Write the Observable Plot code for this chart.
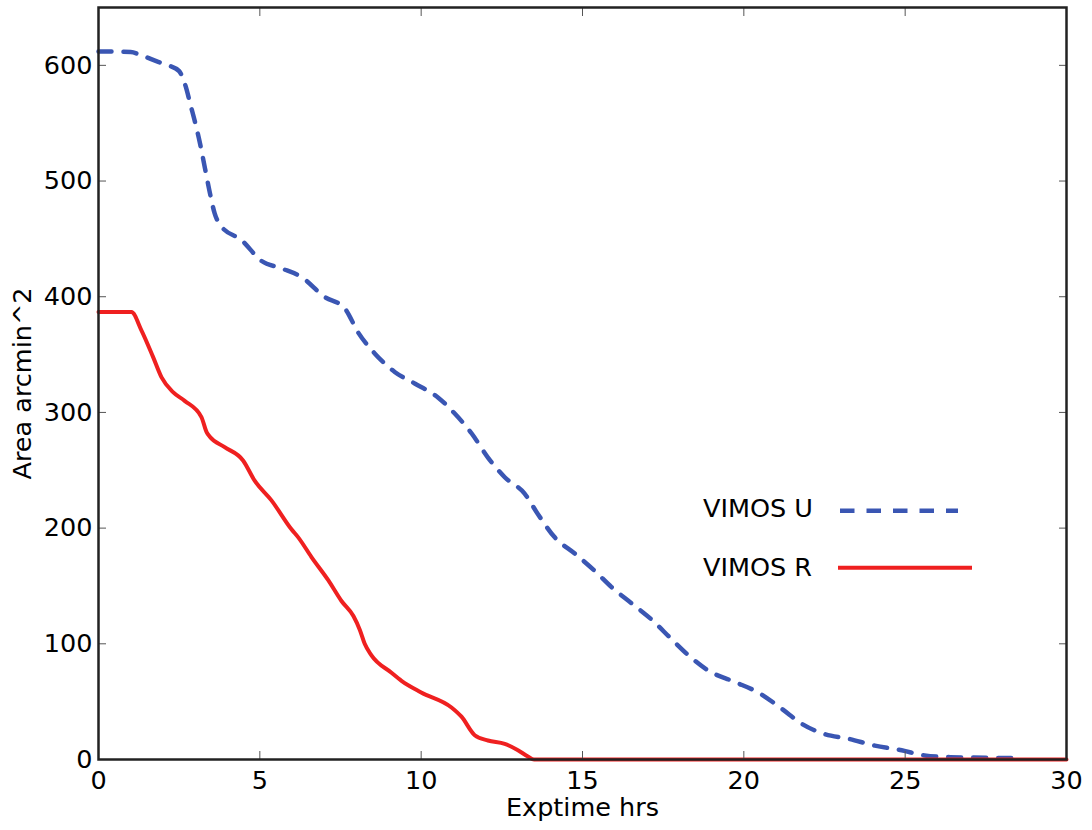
<!DOCTYPE html>
<html>
<head>
<meta charset="utf-8">
<script src="https://cdn.jsdelivr.net/npm/d3@7"></script>
<script src="https://cdn.jsdelivr.net/npm/@observablehq/plot@0.6"></script>
<style>
  html, body { margin: 0; padding: 0; background: #fff; }
  #wrap { position: relative; width: 1092px; height: 830px; font-family: "DejaVu Sans", sans-serif; }
  #legend { position: absolute; left: 0; top: 0; pointer-events: none; }
</style>
</head>
<body>
<div id="wrap"></div>
<script>
// ---- data ----
const xTicks = [0, 5, 10, 15, 20, 25, 30];
const yTicks = [0, 100, 200, 300, 400, 500, 600];
const xLabel = "Exptime hrs";
const yLabel = "Area arcmin^2";
const seriesNames = ["VIMOS U", "VIMOS R"];

const uHours = [0, 1.0, 1.33, 1.85, 2.16, 2.5, 2.7, 2.85, 3.0, 3.15, 3.3, 3.45, 3.6, 3.8, 4.43, 5.05, 5.67, 6.29, 7.0, 7.63, 8.05, 8.56, 9.18, 9.8, 10.52, 11.04, 11.56, 12.07, 12.59, 13.2, 13.62, 14.14, 14.76, 15.38, 15.9, 16.52, 17.14, 17.76, 18.37, 18.89, 19.72, 20.44, 21.17, 21.79, 22.5, 23.23, 24.06, 24.89, 25.6, 26.4, 27.5, 28.3];
const uArea  = [612, 611.5, 608.6, 603, 600, 595, 582, 566, 550, 532, 511, 490, 472, 461, 449, 431, 424.5, 417, 400, 390, 369, 351, 335, 325, 313, 299, 282, 261, 244, 230, 212, 192, 178, 163, 149, 135, 121, 104, 88, 77, 67, 58, 44, 31, 22, 18, 12, 8, 3.5, 2, 1.5, 1.2];

const rHours = [0, 1.02, 1.33, 1.69, 1.95, 2.31, 2.67, 3.19, 3.35, 3.45, 3.91, 4.48, 4.84, 5.36, 5.98, 6.19, 6.6, 7.12, 7.53, 7.9, 8.1, 8.25, 8.46, 9.08, 9.39, 10.0, 10.94, 11.25, 11.66, 12.07, 12.59, 13.0, 13.31, 13.5, 30];
const rArea  = [386.7, 386.7, 371, 348, 330.5, 317.5, 310, 296, 283, 279, 270, 258.5, 241, 224, 199, 192, 175, 155, 137, 124, 112, 100, 90, 75, 68, 58, 45, 37, 21, 16.4, 13.5, 8, 2.6, 0, 0];

const colors = { "VIMOS U": "#3a56b3", "VIMOS R": "#ef2020" };

const uData = uHours.map((h, i) => ({ h, a: uArea[i] }));
const rData = rHours.map((h, i) => ({ h, a: rArea[i] }));

const FS = 25.5;

const chart = Plot.plot({
  width: 1092,
  height: 830,
  marginLeft: 98,
  marginRight: 26,
  marginTop: 7,
  marginBottom: 71,
  style: { fontFamily: "DejaVu Sans, sans-serif", fontSize: FS + "px", color: "#000", background: "#fff" },
  x: { domain: [0, 30] },
  y: { domain: [0, 650] },
  marks: [
    Plot.line(uData, { x: "h", y: "a", stroke: colors["VIMOS U"], strokeWidth: 4.5, strokeDasharray: "13,12", curve: "monotone-x" }),
    Plot.line(rData, { x: "h", y: "a", stroke: colors["VIMOS R"], strokeWidth: 4, curve: "monotone-x" }),
    Plot.axisX(xTicks, { anchor: "bottom", tickSize: -8, tickPadding: 19, label: null, stroke: "#555", fontSize: FS }),
    Plot.axisX(xTicks, { anchor: "top", tickSize: -8, fill: "none", label: null, stroke: "#555" }),
    Plot.axisY(yTicks, { anchor: "left", tickSize: -8, tickPadding: 14, label: null, stroke: "#555", fontSize: FS }),
    Plot.axisY(yTicks, { anchor: "right", tickSize: -8, fill: "none", label: null, stroke: "#555" }),
    Plot.frame({ stroke: "#222", strokeWidth: 2.5 }),
    Plot.text([xLabel], { frameAnchor: "bottom", dy: 48, fontSize: FS, lineAnchor: "middle", textAnchor: "middle", fill: "#000" }),
    Plot.text([yLabel], { frameAnchor: "left", dx: -76, rotate: -90, fontSize: FS, lineAnchor: "middle", textAnchor: "middle", fill: "#000" })
  ]
});

const wrap = document.getElementById("wrap");
wrap.appendChild(chart);

// legend overlay
const ns = "http://www.w3.org/2000/svg";
const leg = document.createElementNS(ns, "svg");
leg.setAttribute("id", "legend");
leg.setAttribute("width", 1092);
leg.setAttribute("height", 830);
const rows = [
  { name: seriesNames[0], tx: 703, ty: 517, x1: 840, x2: 958, ly: 510.7, dash: "14.5,12", w: 4.5 },
  { name: seriesNames[1], tx: 703, ty: 576, x1: 838, x2: 972, ly: 567.7, dash: null, w: 4 }
];
for (const r of rows) {
  const t = document.createElementNS(ns, "text");
  t.setAttribute("x", r.tx);
  t.setAttribute("y", r.ty);
  t.setAttribute("font-family", "DejaVu Sans, sans-serif");
  t.setAttribute("font-size", FS);
  t.setAttribute("fill", "#000");
  t.textContent = r.name;
  leg.appendChild(t);
  const l = document.createElementNS(ns, "line");
  l.setAttribute("x1", r.x1);
  l.setAttribute("x2", r.x2);
  l.setAttribute("y1", r.ly);
  l.setAttribute("y2", r.ly);
  l.setAttribute("stroke", colors[r.name]);
  l.setAttribute("stroke-width", r.w);
  if (r.dash) l.setAttribute("stroke-dasharray", r.dash);
  leg.appendChild(l);
}
wrap.appendChild(leg);
</script>
</body>
</html>
